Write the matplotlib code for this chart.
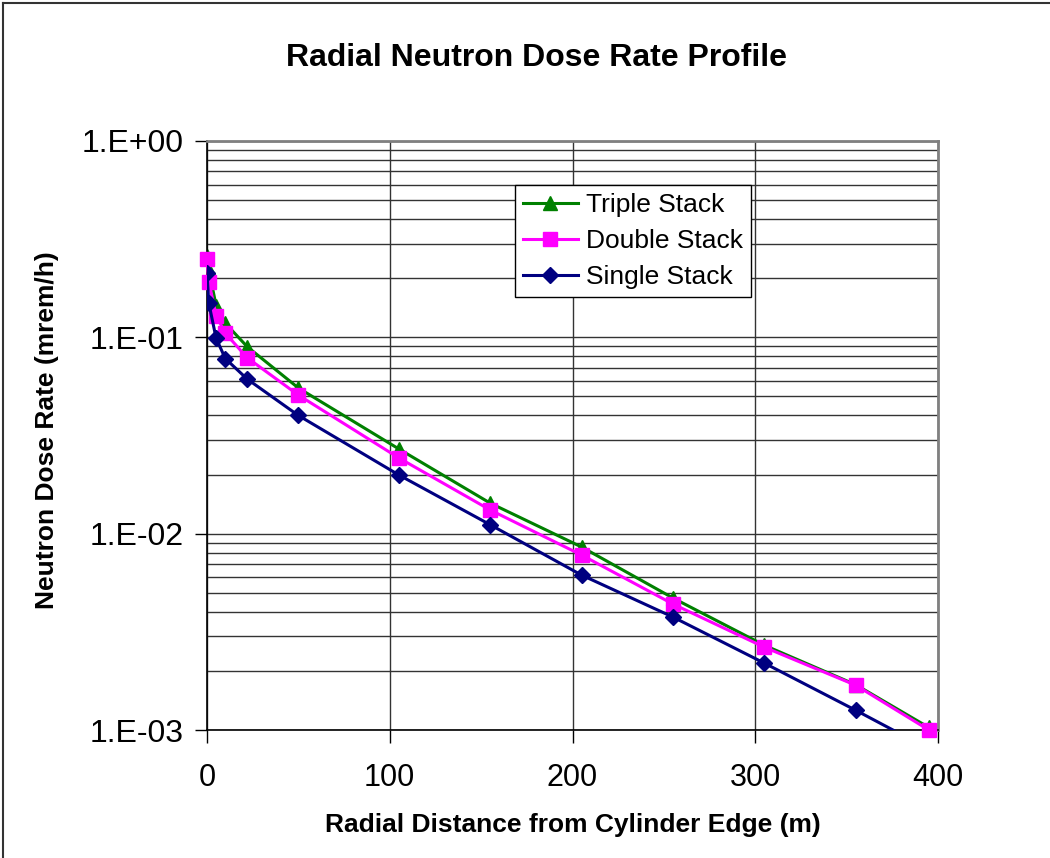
import numpy as np
import matplotlib
matplotlib.use("Agg")
import matplotlib.pyplot as plt
from matplotlib.lines import Line2D
from matplotlib.ticker import LogLocator, FixedLocator, FuncFormatter

plt.rcParams['font.family'] = ['Liberation Sans', 'DejaVu Sans']

# Radial distance (m)
distance = [0, 1, 5, 10, 22, 50, 105, 155, 205, 255, 305, 355, 395]
triple_stack = [0.26, 0.22, 0.145, 0.118, 0.0896, 0.0552, 0.027, 0.0143,
                0.00855, 0.0047, 0.0027, 0.0017, 0.00103]
double_stack = [0.25, 0.192, 0.129, 0.105, 0.0787, 0.0508, 0.0243, 0.0132,
                0.00778, 0.00438, 0.00264, 0.00169, 0.00100]
single_stack = [0.212, 0.149, 0.0989, 0.078, 0.0613, 0.040, 0.0199, 0.0111,
                0.00615, 0.00376, 0.00219, 0.00126, 0.00080]

x_ticks = [0, 100, 200, 300, 400]

fig = plt.figure(figsize=(10.5, 8.58), dpi=100)
ax = fig.add_axes([207 / 1050, 1 - 730 / 858, 731 / 1050, 589 / 858])

# outer chart border (left and top visible)
fig.add_artist(Line2D([3 / 1050, 3 / 1050], [0, 1 - 3 / 858], transform=fig.transFigure,
                      color='#333333', lw=1.5))
fig.add_artist(Line2D([3 / 1050, 1], [1 - 3 / 858, 1 - 3 / 858], transform=fig.transFigure,
                      color='#333333', lw=1.5))

ax.plot(distance, triple_stack, color='#008000', lw=2.2, marker='^', ms=9.5,
        label='Triple Stack', clip_on=True)
ax.plot(distance, double_stack, color='#FF00FF', lw=2.2, marker='s', ms=9.5,
        label='Double Stack', clip_on=False, zorder=4)
ax.plot(distance, single_stack, color='#000080', lw=2.2, marker='D', ms=8.5,
        label='Single Stack', clip_on=True, zorder=5)

ax.set_yscale('log')
ax.set_ylim(1e-3, 1)
ax.set_xlim(0, 400)

ax.xaxis.set_major_locator(FixedLocator(x_ticks))
ax.yaxis.set_major_locator(LogLocator(base=10, numticks=10))
ax.yaxis.set_minor_locator(LogLocator(base=10, subs=np.arange(2, 10), numticks=100))
ax.yaxis.set_major_formatter(FuncFormatter(lambda v, p: '1.E%+03d' % int(round(np.log10(v)))))
ax.yaxis.set_minor_formatter(FuncFormatter(lambda v, p: ''))

ax.tick_params(axis='both', which='major', direction='out', length=9, width=1)
ax.tick_params(axis='y', which='major', labelsize=23, pad=8)
ax.tick_params(axis='x', which='major', labelsize=22, pad=15)
ax.tick_params(axis='y', which='minor', length=0)

ax.grid(True, which='major', axis='both', color='#333333', lw=1)
ax.grid(True, which='minor', axis='y', color='#333333', lw=1)
ax.set_axisbelow(True)

for side in ['top', 'right']:
    ax.spines[side].set_color('#808080')
    ax.spines[side].set_linewidth(2)
for side in ['left', 'bottom']:
    ax.spines[side].set_color('black')
    ax.spines[side].set_linewidth(1.2)

fig.text(537 / 1050, 1 - 58 / 858, 'Radial Neutron Dose Rate Profile', ha='center',
         va='center', fontsize=23, fontweight='bold')
fig.text(573 / 1050, 1 - 825 / 858, 'Radial Distance from Cylinder Edge (m)', ha='center',
         va='center', fontsize=19, fontweight='bold')
fig.text(47 / 1050, 1 - 430 / 858, 'Neutron Dose Rate (mrem/h)', ha='center',
         va='center', fontsize=19, fontweight='bold', rotation=90)

leg = ax.legend(loc='upper left', bbox_to_anchor=(0.421, 0.925), borderaxespad=0,
                fontsize=19, frameon=True, fancybox=False, edgecolor='black',
                framealpha=1, handlelength=2.1, labelspacing=0.45, borderpad=0.3,
                handletextpad=0.3)
leg.get_frame().set_linewidth(1)

fig.savefig('out.png', dpi=100)
